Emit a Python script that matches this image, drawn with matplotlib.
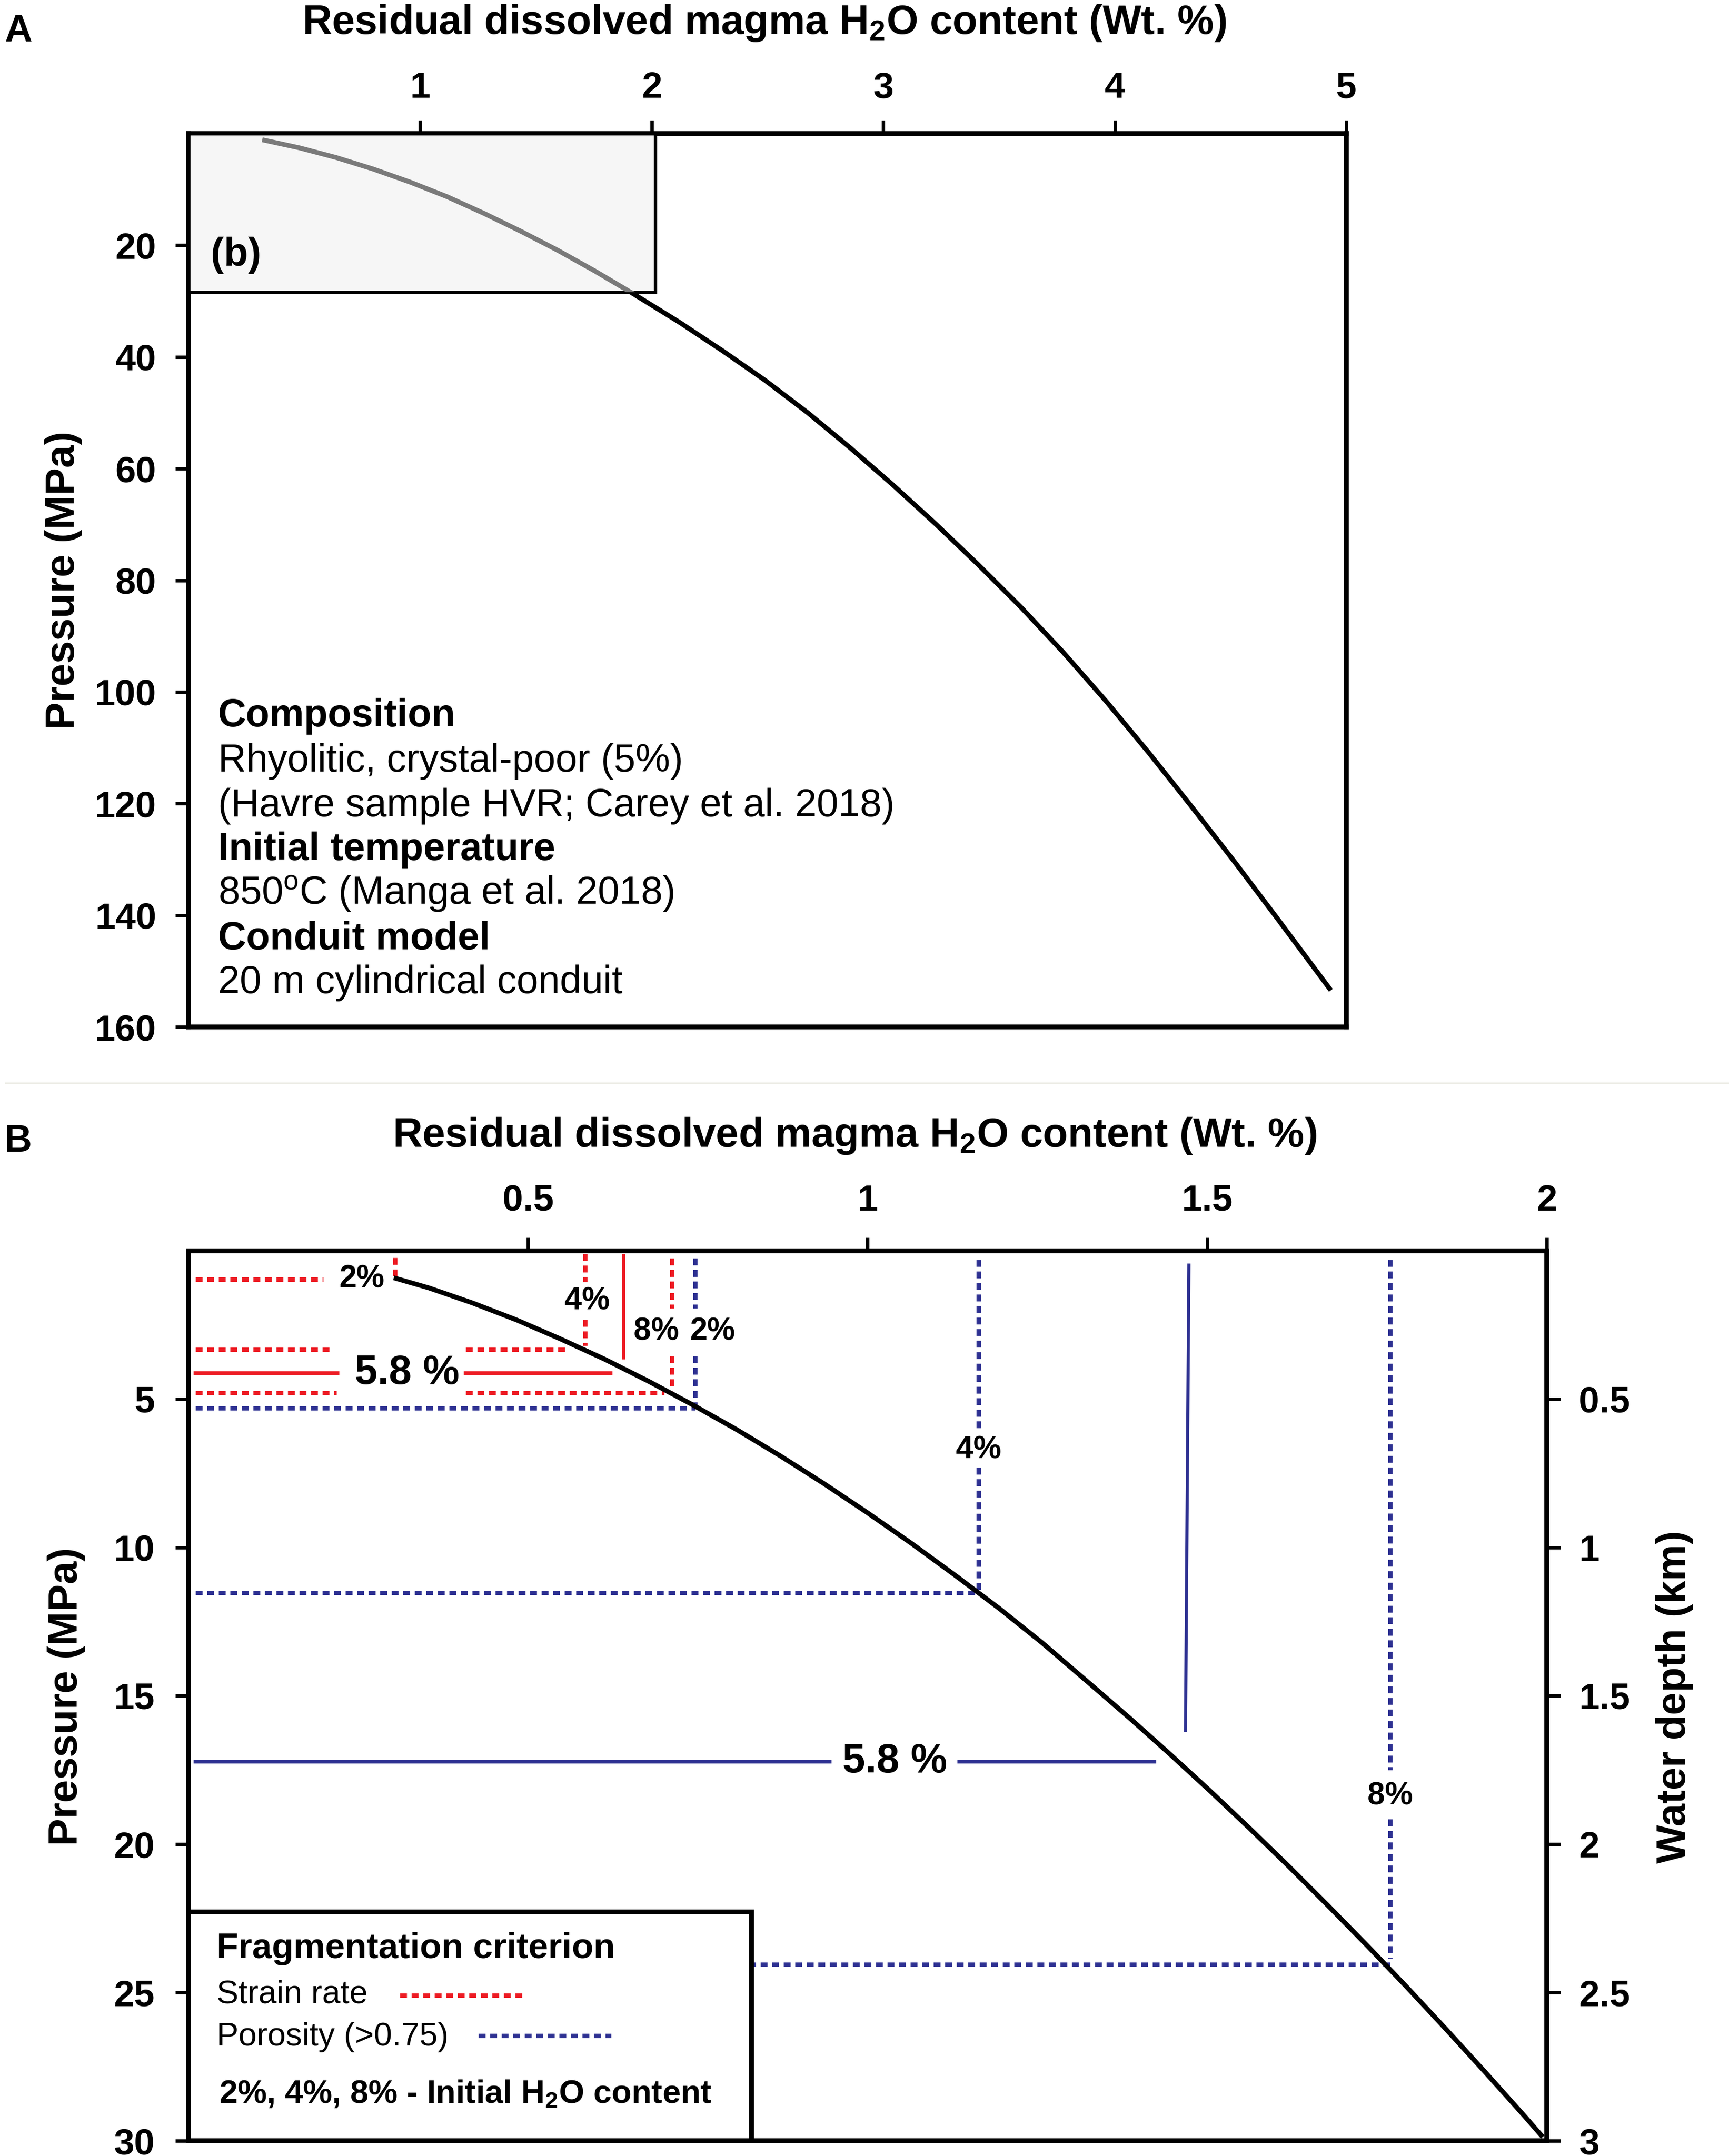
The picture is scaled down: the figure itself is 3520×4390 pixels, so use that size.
import matplotlib
matplotlib.use('Agg')
import matplotlib.pyplot as plt
from matplotlib.patches import Rectangle
from matplotlib.lines import Line2D

plt.rcParams['font.family'] = ['Liberation Sans', 'DejaVu Sans']
plt.rcParams['mathtext.fontset'] = 'custom'
plt.rcParams['mathtext.rm'] = 'Liberation Sans'
plt.rcParams['mathtext.bf'] = 'Liberation Sans:bold'
plt.rcParams['mathtext.it'] = 'Liberation Sans:italic'

# ---- data ----
# panel A: full decompression path (wt% H2O vs MPa)
a_h2o = [0.328, 0.478, 0.638, 0.797, 0.957, 1.116, 1.276, 1.435, 1.594, 1.754,
         1.913, 2.120, 2.306, 2.490, 2.674, 2.858, 3.041, 3.226, 3.410, 3.594,
         3.777, 3.961, 4.145, 4.329, 4.513, 4.697, 4.927]
a_pres = [1.2, 2.55, 4.3, 6.35, 8.7, 11.3, 14.3, 17.5, 20.9, 24.6,
          28.5, 33.8, 38.9, 44.2, 50.0, 56.3, 62.9, 69.9, 77.2, 84.8,
          92.9, 101.6, 110.8, 120.4, 130.2, 140.3, 153.1]
a_xticks = [1, 2, 3, 4, 5]
a_yticks = [20, 40, 60, 80, 100, 120, 140, 160]
zoom_box = (2.015, 28.4)  # extent of panel (b) in A

# panel B: shallow part of the path
b_h2o = [0.3055, 0.3539, 0.4185, 0.4831, 0.5477, 0.6124, 0.6769, 0.7415, 0.8060,
         0.8706, 0.9352, 0.9998, 1.0644, 1.1290, 1.1935, 1.2573, 1.3291, 1.3872,
         1.4453, 1.5034, 1.5616, 1.6197, 1.6778, 1.7360, 1.7940, 1.8522, 1.9103,
         1.9685, 1.9917]
b_pres = [0.93, 1.25, 1.76, 2.33, 2.97, 3.65, 4.39, 5.18, 6.01,
          6.90, 7.84, 8.83, 9.86, 10.94, 12.05, 13.22, 14.63, 15.78,
          16.97, 18.19, 19.45, 20.74, 22.07, 23.43, 24.82, 26.25, 27.71,
          29.20, 29.81]
b_xticks = [0.5, 1, 1.5, 2]
b_xlabels = ['0.5', '1', '1.5', '2']
b_yticks = [5, 10, 15, 20, 25, 30]
depth_ticks = [0.5, 1, 1.5, 2, 2.5, 3]
depth_labels = ['0.5', '1', '1.5', '2', '2.5', '3']

# strain-rate criterion (red): horizontals (P, x0, x1), verticals (x, P0, P1)
sr_h = [(0.96, 0.01, 0.198), (3.32, 0.01, 0.213), (3.32, 0.408, 0.558),
        (4.78, 0.01, 0.218), (4.78, 0.408, 0.700)]
sr_v = [(0.304, 0.23, 0.87), (0.584, 0.10, 1.05), (0.584, 2.32, 3.20),
        (0.712, 0.25, 1.93), (0.712, 3.54, 4.72)]
sr58_h = [(4.12, 0.01, 0.219), (4.12, 0.408, 0.621)]
sr58_v = [(0.640, 0.15, 3.60)]

# porosity criterion (blue)
por_h = [(5.30, 0.01, 0.746), (11.52, 0.01, 1.163), (24.05, 0.01, 1.769)]
por_v = [(0.746, 0.25, 1.93), (0.746, 3.54, 5.25), (1.163, 0.29, 6.10),
         (1.163, 7.30, 11.44), (1.769, 0.29, 17.50), (1.769, 19.15, 23.85)]
por58_h = [(17.22, 0.01, 0.944), (17.22, 1.135, 1.422)]
por58_v = [(1.473, 1.468, 0.48, 16.17)]

pct_labels = [('2%', 0.255, 0.96), ('4%', 0.587, 1.70), ('8%', 0.689, 2.72),
              ('2%', 0.772, 2.72), ('4%', 1.163, 6.72), ('8%', 1.769, 18.38)]
mid_labels = [('5.8 %', 0.322, 4.12), ('5.8 %', 1.040, 17.22)]

info_lines = [('Composition', 106.2, 'bold'),
              ('Rhyolitic, crystal-poor (5%)', 114.3, 'normal'),
              ('(Havre sample HVR; Carey et al. 2018)', 122.3, 'normal'),
              ('Initial temperature', 130.1, 'bold'),
              (r'850$^{\mathrm{o}}$C (Manga et al. 2018)', 138.0, 'normal'),
              ('Conduit model', 146.1, 'bold'),
              ('20 m cylindrical conduit', 153.9, 'normal')]

RED = '#ed1c24'
BLUE = '#2e3192'
DOT = (0, (1.55, 1.05))
xtitle = r'Residual dissolved magma H$_\mathbf{2}$O content (Wt. %)'

fig = plt.figure(figsize=(35.2, 43.9), dpi=100)


def style_axes(ax, xpad, ypad):
    for s in ax.spines.values():
        s.set_linewidth(7)
    ax.tick_params(axis='x', top=True, bottom=False, labeltop=True, labelbottom=False,
                   direction='out', length=19.5, width=5, pad=xpad)
    ax.tick_params(axis='y', left=True, right=False, direction='out',
                   length=19.5, width=5, pad=ypad)


# ---------------- panel A ----------------
ax_a = fig.add_axes([0.10909, 0.52369, 0.66960, 0.41435])
ax_a.set_xlim(0, 5)
ax_a.set_ylim(160, 0)
ax_a.set_xticks(a_xticks, [str(t) for t in a_xticks], fontsize=54, fontweight='bold')
ax_a.set_yticks(a_yticks, [str(t) for t in a_yticks], fontsize=54, fontweight='bold')
style_axes(ax_a, 22, 28)

ax_a.plot(a_h2o, a_pres, color='black', lw=7, zorder=2)
box = Rectangle((0, 0), zoom_box[0], zoom_box[1], facecolor='#f6f6f6',
                edgecolor='black', lw=4.8, zorder=3)
ax_a.add_patch(box)
grey_line, = ax_a.plot(a_h2o, a_pres, color='#7a7a7a', lw=7, zorder=4)
grey_line.set_clip_path(box)
ax_a.text(0.096, 23.7, '(b)', fontsize=58, fontweight='bold', va='baseline', zorder=5)

for txt, y, w in info_lines:
    ax_a.text(0.127, y, txt, fontsize=57, fontweight=w, va='baseline')

fig.text(0.4420, 0.98428, xtitle, ha='center', va='baseline', fontsize=60, fontweight='bold')
fig.text(0.0026, 0.98064, 'A', fontsize=56, fontweight='bold', va='baseline')
fig.text(0.03665, 0.7309, 'Pressure (MPa)', rotation=90, ha='center', va='center',
         fontsize=60, fontweight='bold')

# separator between panels
fig.add_artist(Line2D([0.003, 1.0], [0.4977, 0.4977], transform=fig.transFigure,
                      color='#ebebe3', lw=2))

# ---------------- panel B ----------------
ax_b = fig.add_axes([0.10909, 0.00706, 0.78551, 0.41276])
ax_b.set_xlim(0, 2)
ax_b.set_ylim(30, 0)
ax_b.set_xticks(b_xticks, b_xlabels, fontsize=54, fontweight='bold')
ax_b.set_yticks(b_yticks, [str(t) for t in b_yticks], fontsize=54, fontweight='bold')
style_axes(ax_b, 29, 30)

ax_d = ax_b.twinx()
ax_d.set_ylim(3, 0)
ax_d.set_yticks(depth_ticks, depth_labels, fontsize=54, fontweight='bold')
for s in ax_d.spines.values():
    s.set_linewidth(7)
ax_d.tick_params(axis='y', right=True, left=False, direction='out',
                 length=20, width=5, pad=27)

ax_b.plot(b_h2o, b_pres, color='black', lw=7, zorder=3)


def hlines(segs, **kw):
    for y, x0, x1 in segs:
        ax_b.plot([x0, x1], [y, y], **kw)


def vlines(segs, **kw):
    for x, y0, y1 in segs:
        ax_b.plot([x, x], [y0, y1], **kw)


dot_kw = dict(lw=6.5, ls=DOT, dash_capstyle='butt', zorder=2)
hlines(sr_h, color=RED, **dot_kw)
vlines(sr_v, color=RED, **dot_kw)
hlines(sr58_h, color=RED, lw=5.5, zorder=2)
vlines(sr58_v, color=RED, lw=5, zorder=2)
hlines(por_h, color=BLUE, **dot_kw)
vlines(por_v, color=BLUE, **dot_kw)
hlines(por58_h, color=BLUE, lw=5.5, zorder=2)
for x0, x1, y0, y1 in por58_v:
    ax_b.plot([x0, x1], [y0, y1], color=BLUE, lw=4.6, zorder=2)

for txt, x, y in pct_labels:
    ax_b.text(x, y, txt, fontsize=46, fontweight='bold', ha='center', va='center')
for txt, x, y in mid_labels:
    ax_b.text(x, y, txt, fontsize=60, fontweight='bold', ha='center', va='center')

# legend box
ax_b.add_patch(Rectangle((0, 22.29), 0.829, 7.71, facecolor='white',
                         edgecolor='black', lw=7, zorder=5))
ax_b.text(0.041, 23.84, 'Fragmentation criterion', fontsize=52, fontweight='bold',
          va='baseline', zorder=6)
ax_b.text(0.041, 25.36, 'Strain rate', fontsize=48, va='baseline', zorder=6)
ax_b.plot([0.311, 0.498], [25.1, 25.1], color=RED, lw=6.5, ls=DOT,
          dash_capstyle='butt', zorder=6)
ax_b.text(0.041, 26.78, 'Porosity (>0.75)', fontsize=48, va='baseline', zorder=6)
ax_b.plot([0.427, 0.622], [26.46, 26.46], color=BLUE, lw=6.5, ls=DOT,
          dash_capstyle='butt', zorder=6)
ax_b.text(0.045, 28.72, r'2%, 4%, 8% - Initial H$_\mathbf{2}$O content', fontsize=48,
          fontweight='bold', va='baseline', zorder=6)

fig.text(0.4943, 0.46811, xtitle, ha='center', va='baseline', fontsize=60, fontweight='bold')
fig.text(0.0026, 0.4658, 'B', fontsize=56, fontweight='bold', va='baseline')
fig.text(0.0383, 0.2130, 'Pressure (MPa)', rotation=90, ha='center', va='center',
         fontsize=60, fontweight='bold')
fig.text(0.9685, 0.2130, 'Water depth (km)', rotation=90, ha='center', va='center',
         fontsize=60, fontweight='bold')

fig.savefig('out.png', dpi=100)
